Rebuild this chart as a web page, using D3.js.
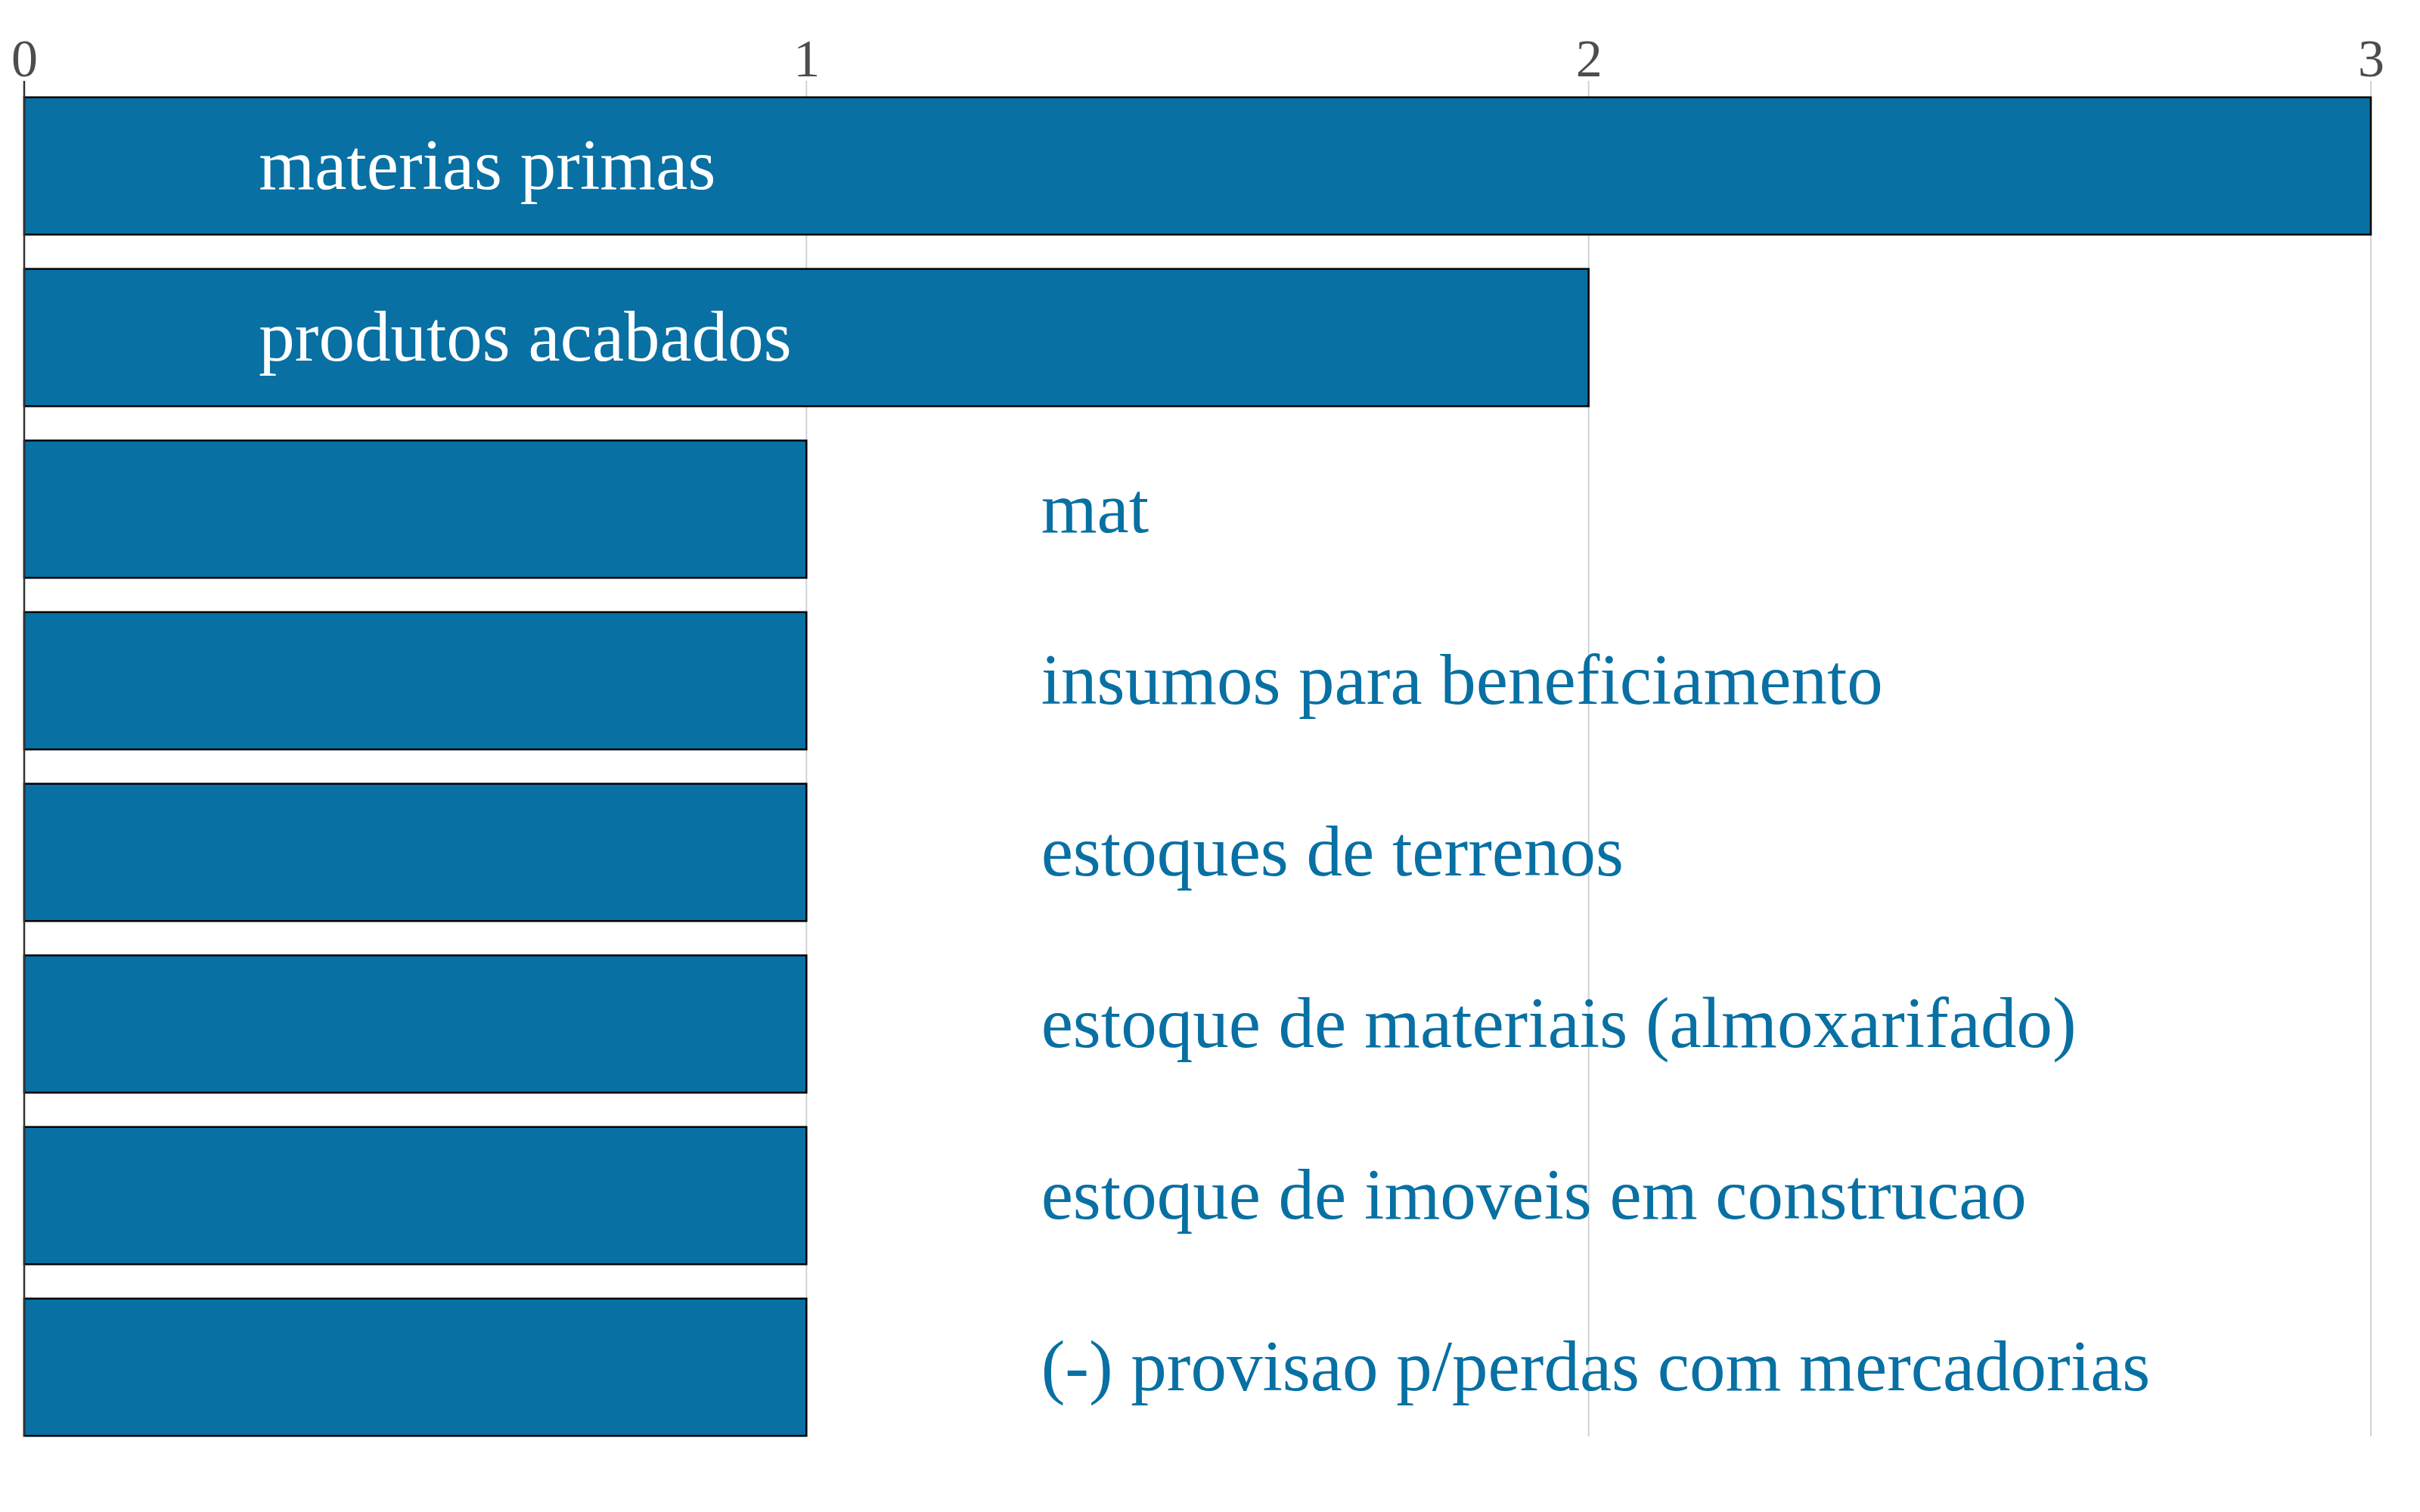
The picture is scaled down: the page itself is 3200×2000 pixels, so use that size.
<!DOCTYPE html>
<html>
<head>
<meta charset="utf-8">
<script src="https://cdn.jsdelivr.net/npm/d3@7"></script>
<style>
  html, body { margin: 0; padding: 0; background: #fff; }
  svg { display: block; }
</style>
</head>
<body>
<svg id="chart" width="3200" height="2000"></svg>
<script>
const categories = [
  "materias primas",
  "produtos acabados",
  "mat",
  "insumos para beneficiamento",
  "estoques de terrenos",
  "estoque de materiais (almoxarifado)",
  "estoque de imoveis em construcao",
  "(-) provisao p/perdas com mercadorias"
];
const values = [3, 2, 1, 1, 1, 1, 1, 1];
const tickValues = [0, 1, 2, 3];

const data = categories.map((c, i) => ({ name: c, value: values[i] }));

const svg = d3.select("#chart");
const W = 3200, H = 2000;
const BLUE = "#0870a3";
const FONT = "'Liberation Serif', 'Times New Roman', serif";

const x = d3.scaleLinear().domain([0, 3]).range([32, 3135]);
const y = d3.scaleBand().domain(categories).range([106, 1922])
  .paddingInner(0.2).paddingOuter(0.1);

const gridTop = 107, gridBottom = 1900;

// gridlines
svg.append("g").selectAll("line").data(tickValues.filter(d => d > 0)).join("line")
  .attr("x1", d => x(d)).attr("x2", d => x(d))
  .attr("y1", gridTop).attr("y2", gridBottom)
  .attr("stroke", "#cdd3d9").attr("stroke-width", 2);

// bars
svg.append("g").selectAll("rect").data(data).join("rect")
  .attr("x", x(0))
  .attr("y", d => y(d.name))
  .attr("width", d => x(d.value) - x(0))
  .attr("height", y.bandwidth())
  .attr("fill", BLUE)
  .attr("stroke", "#000")
  .attr("stroke-width", 2.5);

// zero line
svg.append("line")
  .attr("x1", x(0)).attr("x2", x(0))
  .attr("y1", gridTop).attr("y2", gridBottom)
  .attr("stroke", "#333").attr("stroke-width", 2.5);

// top axis
const axis = d3.axisTop(x).tickValues(tickValues).tickFormat(d3.format("d"))
  .tickSize(0).tickPadding(6);
const gAxis = svg.append("g").attr("transform", `translate(0,${gridTop})`).call(axis);
gAxis.select(".domain").remove();
gAxis.selectAll("text")
  .attr("font-family", FONT)
  .attr("font-size", 70)
  .attr("fill", "#4d4d4d");

// labels
const inside = d => d.value >= 2;
svg.append("g").selectAll("text").data(data).join("text")
  .attr("x", d => inside(d) ? x(0.3) : x(d.value + 0.3))
  .attr("y", d => y(d.name) + y.bandwidth() / 2)
  .attr("dy", "0.32em")
  .attr("font-family", FONT)
  .attr("font-size", 95)
  .attr("fill", d => inside(d) ? "#ffffff" : BLUE)
  .text(d => d.name);
</script>
</body>
</html>
